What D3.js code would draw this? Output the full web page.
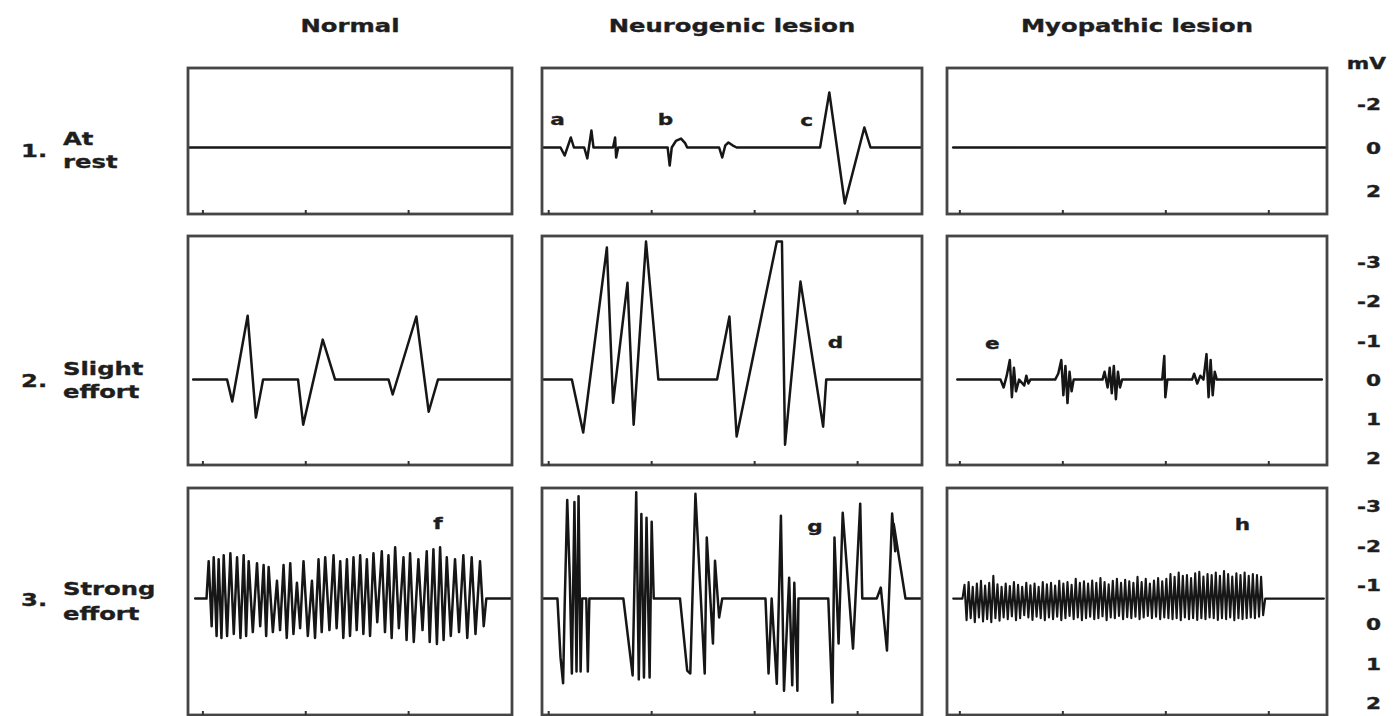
<!DOCTYPE html>
<html>
<head>
<meta charset="utf-8">
<script src="https://cdn.jsdelivr.net/npm/d3@7"></script>
<style>
  html, body { margin: 0; padding: 0; background: #fff; }
  svg { display: block; font-family: "DejaVu Sans", Verdana, sans-serif; font-weight: bold; }
</style>
</head>
<body>
<svg id="chart" width="1393" height="716"></svg>
<script>
// ---- Headings -------------------------------------------------------------
const columns = ["Normal", "Neurogenic lesion", "Myopathic lesion"];
const rowNumbers = ["1.", "2.", "3."];
const rowLabels = [["At", "rest"], ["Slight", "effort"], ["Strong", "effort"]];
const unitLabel = "mV";

// Voltage scale labels of each row (negative deflection drawn upward)
const voltTicks = [[-2, 0, 2], [-3, -2, -1, 0, 1, 2], [-3, -2, -1, 0, 1, 2]];
// Time ticks along the bottom of each panel (ms)
const timeTicks = [0, 10, 20, 30];
// Resting level of the traces in each row (mV)
const rowBaseline = [0, 0, -0.65];

// ---- Traces: [time (ms), deflection from baseline (mV)] -------------------
// 1. At rest
const normalRest = [[-1.4, 0], [30.1, 0]];
const neuroRest = [
  [-0.5, 0], [1.2, 0], [1.6, 0.37], [2.2, -0.46], [2.5, 0], [3.5, 0], [3.8, 0.5], [4.2, -0.78], [4.4, 0],
  [6.3, 0], [6.5, -0.46], [6.6, 0.46], [6.8, 0],
  [11.6, 0], [11.8, 0.83], [12.0, 0], [12.4, -0.3], [12.9, -0.41], [13.3, -0.2], [13.5, 0],
  [16.6, 0], [16.9, 0.46], [17.2, -0.1], [17.5, -0.23], [17.9, -0.1], [18.3, 0],
  [26.4, 0], [27.3, -2.53], [28.8, 2.57], [30.2, 0], [30.7, -0.92], [31.3, 0], [36.2, 0]
];
const myoRest = [[-0.6, 0], [35.6, 0]];

// 2. Slight effort
const normalSlight = [
  [-0.9, 0], [2.4, 0], [2.9, 0.56], [4.4, -1.63], [5.2, 0.97], [5.9, 0],
  [9.3, 0], [9.8, 1.15], [11.7, -1.02], [12.9, 0],
  [18.1, 0], [18.5, 0.38], [20.8, -1.61], [22.0, 0.82], [22.9, 0], [30.1, 0]
];
const neuroSlight = [
  [-0.6, 0], [2.3, 0], [3.4, 1.35], [5.7, -3.37], [6.3, 0.59], [7.7, -2.47], [8.3, 1.15], [9.5, -3.52], [10.7, 0],
  [16.4, 0], [17.6, -1.61], [18.3, 1.45], [22.2, -3.52], [22.7, -3.52], [23.0, 1.66], [24.5, -2.5], [26.7, 1.2], [27.0, 0],
  [36.2, 0]
];
const myoSlight = [
  [-0.2, 0], [4.0, 0], [4.3, 0.2], [4.6, -0.1], [4.9, -0.5], [5.1, 0.45], [5.3, -0.3], [5.5, 0.3], [5.8, 0],
  [6.3, 0.15], [6.5, -0.1], [6.7, 0.1], [6.9, 0],
  [9.3, 0], [9.6, -0.15], [9.9, -0.5], [10.1, 0.4], [10.3, -0.35], [10.5, 0.6], [10.7, -0.2], [10.9, 0.3], [11.1, 0],
  [13.9, 0], [14.1, -0.2], [14.4, 0.2], [14.6, -0.3], [14.8, 0.35], [15.0, -0.35], [15.2, 0.5], [15.4, -0.2], [15.6, 0.2], [15.8, 0],
  [19.7, 0], [19.9, -0.6], [20.0, 0.45], [20.2, 0],
  [22.6, 0], [22.8, -0.15], [23.1, 0.1], [23.4, -0.1], [23.7, 0], [24.0, -0.65], [24.2, 0.45], [24.4, -0.5], [24.6, 0.4], [24.8, -0.2], [25.0, 0],
  [35.2, 0]
];

// 3. Strong effort
const normalStrong = [
  [-0.7, 0], [0.4, 0],
  [0.61, -0.95], [0.90, 0.70], [1.10, -1.05], [1.38, 0.95], [1.58, -1.00], [1.85, 1.00], [2.07, -1.10], [2.40, 0.95],
  [2.72, -1.15], [3.05, 0.90], [3.37, -1.05], [3.70, 1.00], [4.01, -1.10], [4.25, 0.95], [4.50, -0.95], [4.90, 0.85],
  [5.31, -0.90], [5.62, 0.70], [5.95, -0.85], [6.20, 0.95], [6.44, -0.80], [6.85, 0.85], [7.25, -0.45], [7.55, 0.80],
  [7.89, -0.85], [8.20, 1.00], [8.54, -0.90], [8.85, 0.90], [9.19, -0.40], [9.50, 0.75], [9.83, -0.95], [10.25, 0.95],
  [10.65, -0.45], [10.95, 1.00], [11.29, -1.00], [11.60, 0.85], [11.94, -1.05], [12.35, 0.80], [12.75, -1.10], [13.05, 0.75],
  [13.40, -0.95], [13.70, 1.00], [14.05, -1.00], [14.35, 0.95], [14.69, -1.05], [15.00, 0.80], [15.34, -1.10], [15.65, 0.90],
  [15.99, -1.00], [16.30, 0.95], [16.63, -1.15], [17.00, 0.60], [17.44, -1.20], [17.75, 0.85], [18.09, -1.10], [18.40, 1.00],
  [18.74, -1.30], [19.10, 0.75], [19.55, -1.05], [19.85, 1.05], [20.19, -1.15], [20.55, 1.10], [21.00, -1.00], [21.40, 0.80],
  [21.81, -1.20], [22.10, 1.10], [22.46, -1.25], [22.80, 1.15], [23.11, -1.30], [23.45, 1.05], [23.76, -1.05], [24.15, 0.95],
  [24.56, -1.00], [24.95, 0.85], [25.37, -1.10], [25.75, 1.00], [26.18, -1.05], [26.55, 0.90], [26.99, -0.95], [27.35, 0.70],
  [27.6, 0], [30.1, 0]
];
const neuroStrong = [
  [-0.6, 0], [0.9, 0], [1.2, 1.5], [1.45, 2.15], [1.6, 0.2], [1.85, -2.5], [2.1, -0.5], [2.3, 1.9], [2.55, -2.45],
  [2.75, 1.85], [2.95, -2.6], [3.15, 1.85], [3.3, 0], [3.7, 0], [3.85, 1.85], [4.0, 0],
  [7.3, 0], [8.2, 1.95], [8.55, -2.7], [8.8, 2.05], [9.05, -2.15], [9.3, 2.0], [9.55, -2.05], [9.85, 2.0], [10.05, -1.95], [10.25, 0],
  [12.8, 0], [13.5, 1.83], [13.8, 1.9], [14.3, -2.66], [15.2, 1.9], [15.4, -1.55], [16.0, 1.14], [16.2, -0.96], [16.6, 0.48], [16.9, 0],
  [21.1, 0], [21.4, 1.9], [21.7, 0], [22.2, 2.16], [22.6, -2.1], [22.9, 2.34], [23.4, -0.53], [23.7, 2.2], [23.9, -0.4], [24.2, 2.34], [24.3, 0],
  [27.2, 0], [27.6, 2.64], [27.8, -1.55], [28.2, 1.14], [28.6, -2.18], [29.6, 1.27], [30.3, -2.41], [30.5, 0],
  [31.9, 0], [32.3, -0.28], [32.9, 1.32], [33.4, -2.16], [33.7, -1.2], [33.55, -1.9], [34.7, 0], [36.2, 0]
];
const myoStrong = [
  [-0.6, 0], [0.3, 0],
  [0.5, -0.35], [0.7, 0.55], [0.9, -0.42], [1.1, 0.5], [1.3, -0.3], [1.5, 0.6], [1.7, -0.38], [1.9, 0.48], [2.1, -0.45], [2.3, 0.58],
  [2.5, -0.33], [2.7, 0.52], [2.9, -0.4], [3.1, 0.6], [3.3, -0.58], [3.5, 0.5], [3.7, -0.36], [3.9, 0.56], [4.1, -0.3], [4.3, 0.48],
  [4.5, -0.38], [4.7, 0.52], [4.9, -0.32], [5.1, 0.45], [5.3, -0.42], [5.5, 0.55], [5.7, -0.35], [5.9, 0.5], [6.1, -0.3], [6.3, 0.42],
  [6.5, -0.4], [6.7, 0.48], [6.9, -0.34], [7.1, 0.54], [7.3, -0.38], [7.5, 0.46], [7.7, -0.3], [7.9, 0.5], [8.1, -0.42], [8.3, 0.55],
  [8.5, -0.36], [8.7, 0.48], [8.9, -0.4], [9.1, 0.52], [9.3, -0.33], [9.5, 0.46], [9.7, -0.45], [9.9, 0.55], [10.1, -0.38], [10.3, 0.5],
  [10.5, -0.42], [10.7, 0.44], [10.9, -0.35], [11.1, 0.52], [11.3, -0.5], [11.5, 0.48], [11.7, -0.4], [11.9, 0.55], [12.1, -0.44], [12.3, 0.5],
  [12.5, -0.38], [12.7, 0.46], [12.9, -0.46], [13.1, 0.52], [13.3, -0.4], [13.5, 0.5], [13.7, -0.52], [13.9, 0.45], [14.1, -0.42], [14.3, 0.55],
  [14.5, -0.36], [14.7, 0.48], [14.9, -0.45], [15.1, 0.5], [15.3, -0.5], [15.5, 0.44], [15.7, -0.4], [15.9, 0.52], [16.1, -0.48], [16.3, 0.47],
  [16.5, -0.44], [16.7, 0.5], [16.9, -0.4], [17.1, 0.46], [17.3, -0.55], [17.5, 0.52], [17.7, -0.42], [17.9, 0.48], [18.1, -0.5], [18.3, 0.44],
  [18.5, -0.38], [18.7, 0.5], [18.9, -0.46], [19.1, 0.46], [19.3, -0.52], [19.5, 0.52], [19.7, -0.44], [19.9, 0.48], [20.1, -0.5], [20.3, 0.5],
  [20.5, -0.62], [20.7, 0.52], [20.9, -0.55], [21.1, 0.5], [21.3, -0.66], [21.5, 0.55], [21.7, -0.58], [21.9, 0.48], [22.1, -0.6], [22.3, 0.52],
  [22.5, -0.52], [22.7, 0.5], [22.9, -0.64], [23.1, 0.54], [23.3, -0.68], [23.5, 0.5], [23.7, -0.56], [23.9, 0.52], [24.1, -0.62], [24.3, 0.48],
  [24.5, -0.6], [24.7, 0.5], [24.9, -0.66], [25.1, 0.54], [25.3, -0.58], [25.5, 0.5], [25.7, -0.7], [25.9, 0.52], [26.1, -0.62], [26.3, 0.48],
  [26.5, -0.56], [26.7, 0.55], [26.9, -0.64], [27.1, 0.5], [27.3, -0.6], [27.5, 0.52], [27.7, -0.66], [27.9, 0.5], [28.1, -0.58], [28.3, 0.48],
  [28.5, -0.62], [28.7, 0.5], [28.9, -0.6], [29.1, 0.46], [29.3, -0.55], [29.5, 0.42],
  [29.7, 0], [35.4, 0]
];

const traces = [
  [normalRest, neuroRest, myoRest],
  [normalSlight, neuroSlight, myoSlight],
  [normalStrong, neuroStrong, myoStrong]
];

// Trace letters
const traceLetters = ["a", "b", "c", "d", "e", "f", "g", "h"];

// ---- Layout ---------------------------------------------------------------
const colX = [[188, 512], [542, 922], [947, 1327]];
const rowY = [[68, 214], [236, 465], [488, 715]];
const timeDomain = [[-1.4, 30.1], [-0.6, 36.3], [-1.2, 35.7]];
const voltFrame = [
  { domain: [-2, 2], range: [104, 191] },
  { domain: [-3, 2], range: [262, 458] },
  { domain: [-3, 2], range: [506, 703] }
];
// letter anchors: row, column, time, deflection
const letterAnchors = [
  [0, 1, 0.9, -1.3], [0, 1, 11.4, -1.3], [0, 1, 25.1, -1.25],
  [1, 1, 27.9, -0.97], [1, 2, 3.2, -0.94],
  [2, 0, 22.9, -1.93], [2, 1, 25.9, -1.85], [2, 2, 27.5, -1.9]
];

const SX = 1.35;           // horizontal stretch of lettering
const INK = "#161616";

const svg = d3.select("#chart");

function stretchedText(parent, str, x, y, size, anchor) {
  return parent.append("text")
    .attr("transform", `translate(${x},${y}) scale(${SX},1)`)
    .attr("text-anchor", anchor || "start")
    .attr("font-size", size)
    .attr("fill", "#1e1e1e")
    .attr("stroke", "#1e1e1e")
    .attr("stroke-width", 0.35)
    .text(str);
}

// Column headings
columns.forEach((name, c) => {
  stretchedText(svg, name, (colX[c][0] + colX[c][1]) / 2, 32, 18, "middle");
});

// Row headings
const rowTextY = [
  { num: 157, l1: 145, l2: 168 },
  { num: 387, l1: 375, l2: 398 },
  { num: 606, l1: 595, l2: 620 }
];
rowNumbers.forEach((n, r) => {
  stretchedText(svg, n, 21, rowTextY[r].num, 18);
  stretchedText(svg, rowLabels[r][0], 63, rowTextY[r].l1, 18);
  stretchedText(svg, rowLabels[r][1], 63, rowTextY[r].l2, 18);
});

// Unit label
stretchedText(svg, unitLabel, 1386, 69, 16, "end");

const defs = svg.append("defs");

// Panels
traces.forEach((rowTraces, r) => {
  const y = d3.scaleLinear().domain(voltFrame[r].domain).range(voltFrame[r].range);

  // voltage labels on the right
  const yAxis = d3.axisRight(y).tickValues(voltTicks[r]).tickSize(0).tickFormat(d => String(d));
  const ag = svg.append("g").attr("transform", "translate(1381,0)").call(yAxis);
  ag.select(".domain").remove();
  ag.attr("font-family", null).attr("font-size", null);
  ag.selectAll(".tick text")
    .attr("x", 0).attr("dy", "0.36em")
    .attr("text-anchor", "end")
    .attr("transform", `scale(${SX},1)`)
    .attr("font-size", 16)
    .attr("fill", "#1e1e1e")
    .attr("stroke", "#1e1e1e")
    .attr("stroke-width", 0.35);

  rowTraces.forEach((data, c) => {
    const [x0, x1] = colX[c];
    const [y0, y1] = rowY[r];
    const x = d3.scaleLinear().domain(timeDomain[c]).range([x0, x1]);
    const g = svg.append("g");

    const clipId = `clip-${r}-${c}`;
    defs.append("clipPath").attr("id", clipId)
      .append("rect").attr("x", x0).attr("y", y0).attr("width", x1 - x0).attr("height", y1 - y0);

    // trace
    const line = d3.line()
      .x(d => x(d[0]))
      .y(d => y(d[1] + rowBaseline[r]));
    g.append("path")
      .datum(data)
      .attr("clip-path", `url(#${clipId})`)
      .attr("fill", "none")
      .attr("stroke", INK)
      .attr("stroke-width", data.length > 100 ? 2.1 : 2.5)
      .attr("stroke-linejoin", "round")
      .attr("stroke-linecap", "round")
      .attr("d", line);

    // frame
    g.append("rect")
      .attr("x", x0).attr("y", y0)
      .attr("width", x1 - x0).attr("height", y1 - y0)
      .attr("fill", "none")
      .attr("stroke", "#454545")
      .attr("stroke-width", 2.8);

    // time ticks on the bottom edge
    const xAxis = d3.axisBottom(x)
      .tickValues(timeTicks.filter(t => t > timeDomain[c][0] && t < timeDomain[c][1] - 0.5))
      .tickSize(-4).tickFormat("");
    const xg = g.append("g").attr("transform", `translate(0,${y1})`).call(xAxis);
    xg.select(".domain").remove();
    xg.selectAll(".tick line").attr("stroke", "#333").attr("stroke-width", 2);

    // trace letters
    letterAnchors.forEach((a, i) => {
      if (a[0] === r && a[1] === c) {
        stretchedText(g, traceLetters[i], x(a[2]), y(a[3] + rowBaseline[r]) + 6, 16, "middle");
      }
    });
  });
});
</script>
</body>
</html>
